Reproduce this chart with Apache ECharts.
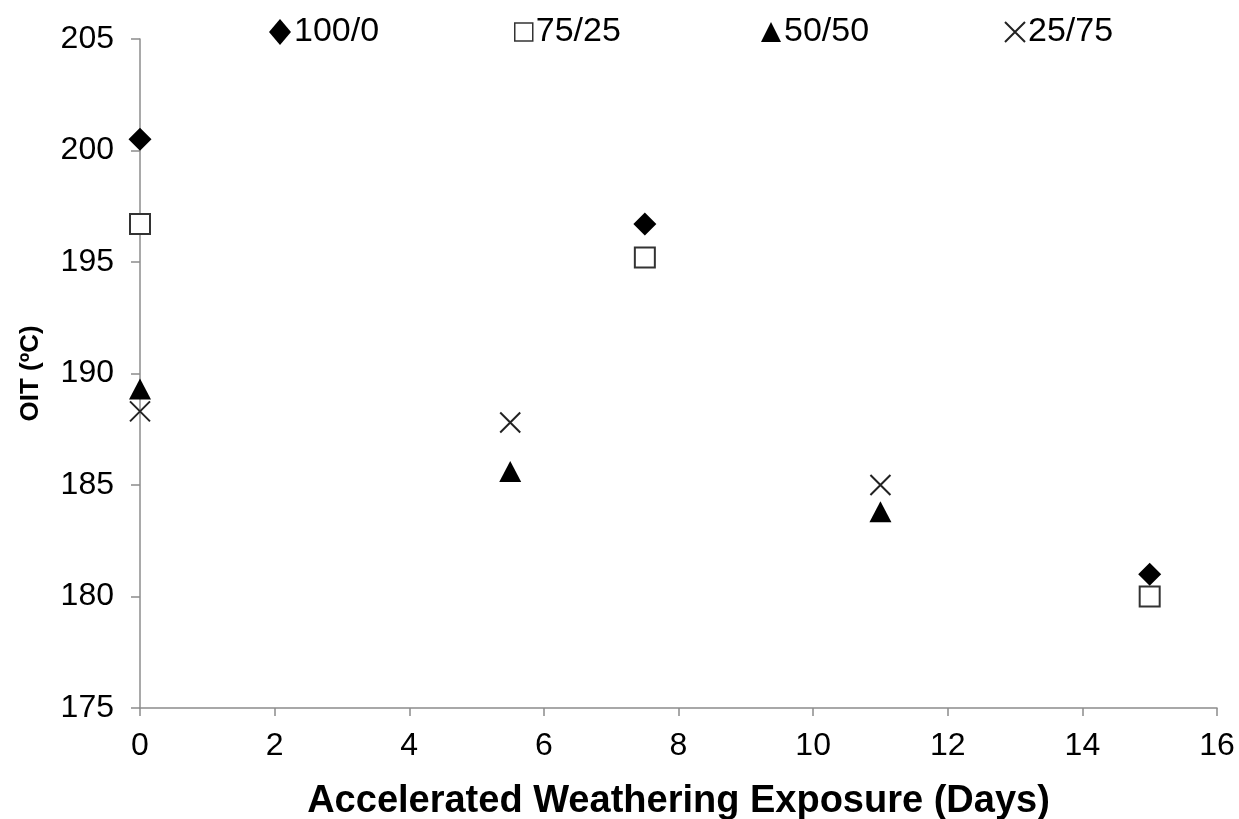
<!DOCTYPE html>
<html>
<head>
<meta charset="utf-8">
<script src="https://cdn.jsdelivr.net/npm/echarts@6/dist/echarts.min.js"></script>
<style>
  html, body { margin: 0; padding: 0; background: #fff; }
  #chart { width: 1239px; height: 819px; }
</style>
</head>
<body>
<div id="chart"></div>
<script>
// Exposure days and OIT readings for each blend ratio
const seriesNames = ['100/0', '75/25', '50/50', '25/75'];
const days100_0  = [0, 7.5, 15];
const oit100_0   = [200.5, 196.7, 181.0];
const days75_25  = [0, 7.5, 15];
const oit75_25   = [196.7, 195.2, 180.0];
const days50_50  = [0, 5.5, 11];
const oit50_50   = [189.3, 185.6, 183.8];
const days25_75  = [0, 5.5, 11];
const oit25_75   = [188.3, 187.8, 185.0];

const xTitle = 'Accelerated Weathering Exposure (Days)';
const yTitle = 'OIT (ºC)';

const FONT = '"Liberation Sans", Arial, sans-serif';
const crossPath = 'path://M0,0L20,20M20,0L0,20';

function pairs(xs, ys) { return xs.map((x, i) => [x, ys[i]]); }

const chart = echarts.init(document.getElementById('chart'), null, { renderer: 'canvas' });

function legendItem(name, left, icon, w, h, style) {
  return {
    data: [{ name: name, icon: icon, itemStyle: style }],
    left: left, top: 10,
    itemWidth: w, itemHeight: h, itemGap: 0,
    textStyle: { fontFamily: FONT, fontSize: 34, color: '#000', padding: [0, 0, 0, -2] },
    selectedMode: false
  };
}

chart.setOption({
  animation: false,
  backgroundColor: '#fff',
  grid: { left: 140, right: 22, top: 39, bottom: 111, containLabel: false, outerBoundsMode: 'none' },
  legend: [
    legendItem(seriesNames[0], 264, 'diamond', 22, 26, { color: '#000', opacity: 1 }),
    legendItem(seriesNames[1], 509, 'rect', 18, 18, { color: '#fff', borderColor: '#333', borderWidth: 1.5, opacity: 1 }),
    legendItem(seriesNames[2], 756, 'triangle', 20, 20, { color: '#000', opacity: 1 }),
    legendItem(seriesNames[3], 999, crossPath, 20, 20, { color: 'transparent', borderColor: '#222', borderWidth: 2, opacity: 1 })
  ],
  xAxis: {
    type: 'value', min: 0, max: 16, interval: 2,
    name: xTitle, nameLocation: 'middle', nameGap: 75,
    nameTextStyle: { fontFamily: FONT, fontSize: 38, fontWeight: 'bold', color: '#000' },
    axisLine: { lineStyle: { color: '#8c8c8c', width: 1.5 } },
    axisTick: { show: true, inside: false, length: 8, lineStyle: { color: '#8c8c8c', width: 1.5 } },
    axisLabel: { fontFamily: FONT, fontSize: 32, color: '#000', margin: 22 },
    splitLine: { show: false }
  },
  yAxis: {
    type: 'value', min: 175, max: 205, interval: 5,
    name: yTitle, nameLocation: 'middle', nameGap: 96, nameRotate: 90,
    nameTextStyle: { fontFamily: FONT, fontSize: 26, fontWeight: 'bold', color: '#000' },
    axisLine: { show: true, lineStyle: { color: '#8c8c8c', width: 1.5 } },
    axisTick: { show: true, inside: false, length: 9, lineStyle: { color: '#8c8c8c', width: 1.5 } },
    axisLabel: { fontFamily: FONT, fontSize: 32, color: '#000', margin: 26 },
    splitLine: { show: false }
  },
  series: [
    {
      name: seriesNames[0], type: 'scatter', data: pairs(days100_0, oit100_0),
      symbol: 'diamond', symbolSize: [23, 23],
      itemStyle: { color: '#000', opacity: 1 }, z: 5
    },
    {
      name: seriesNames[1], type: 'scatter', data: pairs(days75_25, oit75_25),
      symbol: 'rect', symbolSize: [20, 20],
      itemStyle: { color: '#fff', borderColor: '#333', borderWidth: 2, opacity: 1 }, z: 4
    },
    {
      name: seriesNames[2], type: 'scatter', data: pairs(days50_50, oit50_50),
      symbol: 'triangle', symbolSize: [22, 21],
      itemStyle: { color: '#000', opacity: 1 }, z: 5
    },
    {
      name: seriesNames[3], type: 'scatter', data: pairs(days25_75, oit25_75),
      symbol: crossPath, symbolSize: [20, 20],
      itemStyle: { color: 'transparent', borderColor: '#222', borderWidth: 2, opacity: 1 }, z: 5
    }
  ]
});
</script>
</body>
</html>
